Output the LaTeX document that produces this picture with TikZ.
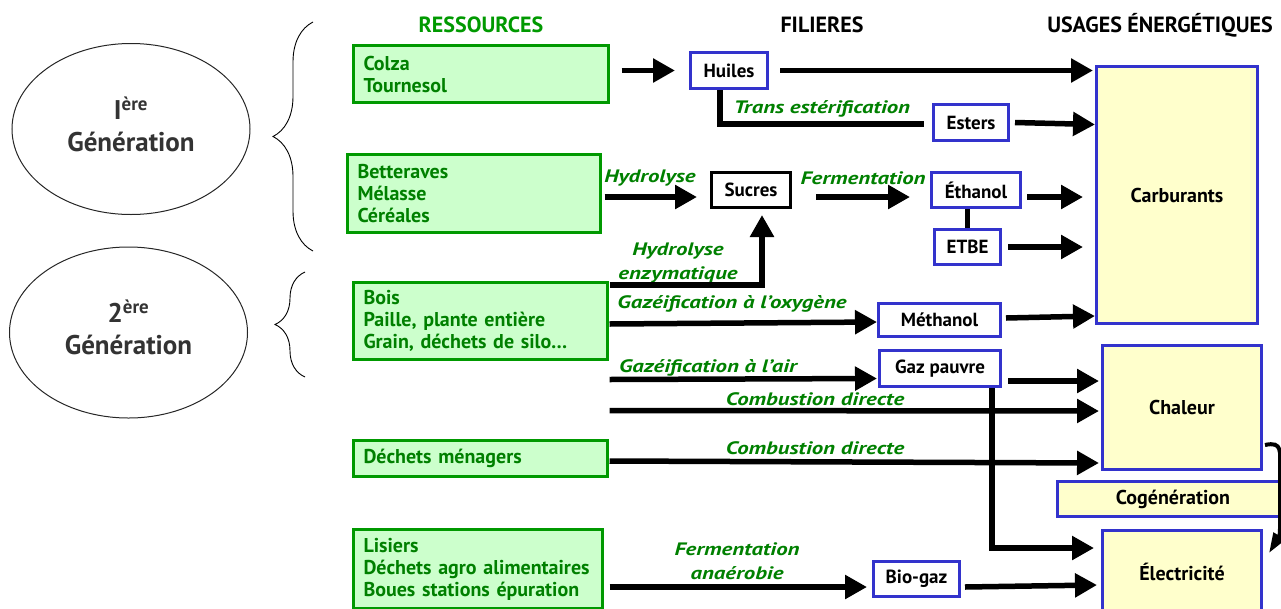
\documentclass[tikz,border=0pt]{standalone}
\usepackage{fontspec}
\setmainfont{PT Sans}
\newfontfamily\lblfont[FakeStretch=1.27]{PT Sans}
\usepackage{tikz}
\usetikzlibrary{shapes.geometric, arrows.meta, positioning, decorations.pathreplacing, calc}
\definecolor{resgreen}{RGB}{0, 153, 0}
\definecolor{restext}{RGB}{0, 128, 0}
\definecolor{resfill}{RGB}{204, 255, 204}
\definecolor{filblue}{RGB}{51, 51, 204}
\definecolor{usefill}{RGB}{255, 255, 204}
\definecolor{gentext}{RGB}{51, 51, 51}

\begin{document}
\begin{tikzpicture}[
        x=1pt, y=-1pt,
        resbox/.style={draw=resgreen, fill=resfill, line width=3pt, text=restext, anchor=west,
            font=\bfseries\fontsize{20}{22}\selectfont, align=left, inner xsep=10.5pt, inner ysep=0pt},
        filbox/.style={draw=filblue, fill=white, line width=3pt, inner sep=0pt,
            font=\bfseries\fontsize{19}{20}\selectfont},
        usebox/.style={draw=filblue, fill=usefill, line width=3pt, inner sep=0pt,
            font=\bfseries\fontsize{20}{22}\selectfont},
        genbubble/.style={ellipse, draw=black!85, line width=1pt, minimum width=238pt, minimum height=171pt,
            text=gentext, font=\bfseries\fontsize{27}{32}\selectfont, align=center, text depth=10pt},
        header/.style={font=\bfseries\fontsize{22}{24}\selectfont},
        lbl/.style={text=restext, font=\lblfont\bfseries\itshape\fontsize{18}{24}\selectfont, align=center, inner sep=0pt},
        flow/.style={line width=5.5pt, -{Triangle[length=22pt, width=23pt]}},
        link/.style={line width=5.5pt},
        genbrace/.style={decorate, decoration={brace, amplitude=#1}, line width=0.9pt}
    ]
    \path[use as bounding box] (0,0) rectangle (1281,608);
    \clip (0,0) rectangle (1281,608);

    % Headers
    \node[header, text=resgreen] (hres) at (481,25) {RESSOURCES};
    \node[header] (hfil) at (822,25) {FILIERES};
    \node[header] (huse) at (1160,25) {USAGES ÉNERGÉTIQUES};

    % Generations
    \node[genbubble] (gen1) at (131,129) {I\textsuperscript{ère}\\Génération};
    \node[genbubble] (gen2) at (128.5,332.5) {2\textsuperscript{ère}\\Génération};
    \draw[genbrace=40pt] (313,251) -- (313,22);
    \draw[genbrace=30pt] (305,377) -- (305,272);

    % Ressources
    \foreach \name/\left/\cy/\w/\h/\txt in {
            colza/350/74/258/60/{Colza\\Tournesol},
            bett/344/193.5/256/81/{Betteraves\\Mélasse\\Céréales},
            bois/350/321/257/80/{Bois\\Paille, plante entière\\Grain, déchets de silo…},
            dechets/350/458.5/257/39/{Déchets ménagers},
            lisiers/350/569/252/82/{Lisiers\\Déchets agro alimentaires\\Boues stations épuration}} {
        \pgfmathsetmacro\tw{\w-24}
        \pgfmathsetmacro\mh{\h-3}
        \node[resbox, text width=\tw pt, minimum height=\mh pt] (\name) at (\left+1.5,\cy) {\txt};
    }

    % Filieres
    \foreach \name/\cx/\cy/\w/\h/\txt in {
            huiles/729/70.5/80/39/Huiles,
            esters/971/122.5/78/39/Esters,
            ethanol/976/190/92/38/Éthanol,
            etbe/967.5/247/69/38/ETBE,
            methanol/939.5/320/125/36/Méthanol,
            gazp/940/368.5/124/39/Gaz pauvre,
            biogaz/916.5/579/89/38/Bio-gaz} {
        \node[filbox, minimum width=\w pt-3pt, minimum height=\h pt-3pt] (\name) at (\cx,\cy) {\txt};
    }
    \node[filbox, draw=black, minimum width=79pt, minimum height=35pt] (sucres) at (751,190) {Sucres};

    % Usages energetiques
    \node[usebox, minimum width=161pt, minimum height=257pt] (carb) at (1177,195) {Carburants};
    \node[usebox, minimum width=159pt, minimum height=124pt] (chaleur) at (1182,407.5) {Chaleur};
    \node[usebox, minimum width=231pt, minimum height=35pt] (cogen) at (1173,499) {Cogénération};
    \node[usebox, minimum width=159pt, minimum height=83pt] (elec) at (1182,572) {Électricité};

    % Labels
    \node[lbl] (lhyd) at (650,178) {Hydrolyse};
    \node[lbl] (lferm) at (863,178) {Fermentation};
    \node[lbl] (ltrans) at (822,109) {Trans estérification};
    \node[lbl] (lenz) at (678,263) {Hydrolyse\\enzymatique};
    \node[lbl] (loxy) at (732,304) {Gazéification à l’oxygène};
    \node[lbl] (lair) at (708,368) {Gazéification à l’air};
    \node[lbl] (lcomb1) at (815,399) {Combustion directe};
    \node[lbl] (lcomb2) at (815,448) {Combustion directe};
    \node[lbl] (lanae) at (737,561) {Fermentation\\anaérobie};

    % Arrows: first generation
    \draw[flow] ($(colza.east |- huiles.west)+(12,0)$) -- ($(huiles.west)+(-14,0)$);
    \draw[flow] ($(huiles.east)+(11,0)$) -- ($(huiles.east -| carb.west)+(-2,0)$);
    \draw[link] ($(huiles.south)+(-9,0)$) |- ($(esters.west)+(-8,1.5)$);
    \draw[flow] ($(esters.east)+(5,0)$) -- ($(esters.east -| carb.west)+(0,2)$);
    \draw[flow] ($(bett.east)+(3,3.5)$) -- ($(sucres.west)+(-13,7)$);
    \draw[flow] ($(sucres.east)+(24,7)$) -- ($(ethanol.west)+(-20,7)$);
    \draw[flow] ($(ethanol.east)+(5,7)$) -- ($(ethanol.east -| carb.west)+(-12,7)$);
    \draw[link] (etbe.north) -- (etbe.north |- ethanol.south);
    \draw[flow] ($(etbe.east)+(6,0)$) -- ($(etbe.east -| carb.west)+(-12,0)$);

    % Arrows: second generation
    \draw[flow] ($(bois.east)+(1,-36)$) -| ($(sucres.south)+(11,6)$);
    \draw[flow] ($(bois.east)+(1,3)$) -- ($(methanol.west)+(0,2)$);
    \draw[flow] ($(bois.east |- gazp.west)+(1,11)$) -- ($(gazp.west)+(-1,10)$);
    \draw[flow] ($(bois.east |- chaleur.west)+(1,3)$) -- ($(chaleur.west)+(-2,3.5)$);
    \draw[flow] ($(methanol.east)+(4,-2)$) -- ($(methanol.east -| carb.west)+(0,-4)$);
    \draw[flow] ($(gazp.east)+(6,12.5)$) -- ($(gazp.east -| chaleur.west)+(-2,12.5)$);
    \draw[flow] ($(gazp.south)+(52,0)$) |- ($(elec.west)+(-7,-24)$);

    % Arrows: dechets
    \draw[flow] ($(dechets.east)+(1,2.5)$) -- ($(dechets.east -| chaleur.west)+(-2,4.5)$);
    \draw[flow] ($(lisiers.east)+(6,18)$) -- ($(biogaz.west)+(-5,8)$);
    \draw[flow] ($(biogaz.east)+(4,8)$) -- ($(biogaz.east -| elec.west)+(-4,6)$);

    % Cogeneration
    \draw[line width=4pt, -{Triangle[length=20pt, width=13pt]}]
        ($(chaleur.east)+(2,37.5)$) .. controls (1283,441) and (1280,452) .. (1280,470)
        -- (1280,520) .. controls (1280,535) .. ($(elec.east)+(6,-19)$);
\end{tikzpicture}
\end{document}
